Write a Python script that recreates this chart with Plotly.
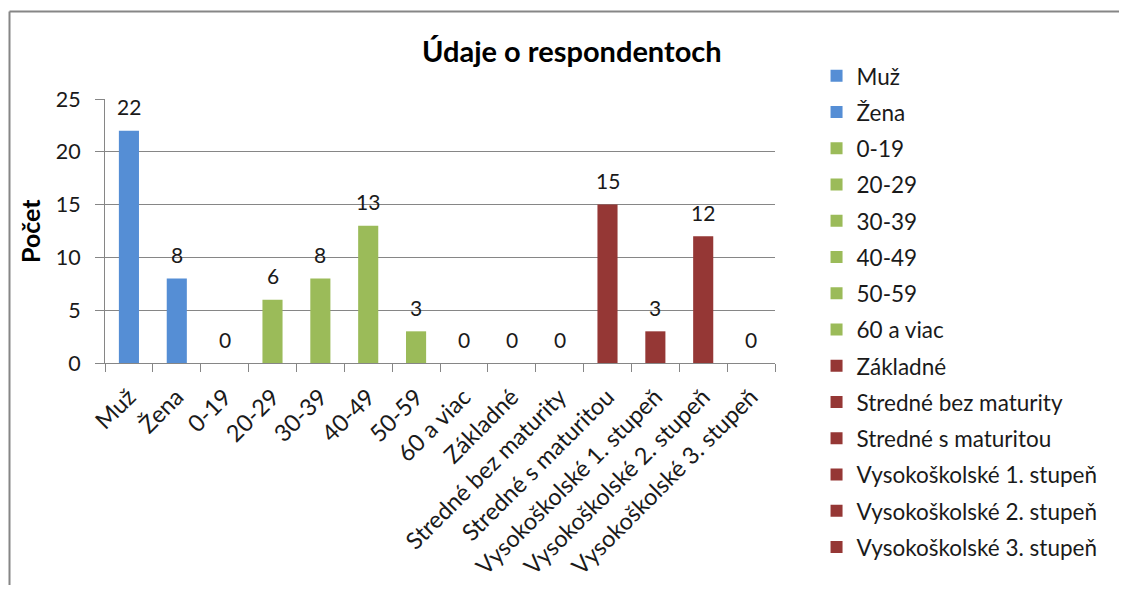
import plotly.graph_objects as go

categories = [
    "Muž", "Žena",
    "0-19", "20-29", "30-39", "40-49", "50-59", "60 a viac",
    "Základné", "Stredné bez maturity", "Stredné s maturitou",
    "Vysokoškolské 1. stupeň", "Vysokoškolské 2. stupeň", "Vysokoškolské 3. stupeň",
]
counts = [22, 8, 0, 6, 8, 13, 3, 0, 0, 0, 15, 3, 12, 0]
groups = ["pohlavie"] * 2 + ["vek"] * 6 + ["vzdelanie"] * 6

_GROUP_COLOURS = {"pohlavie": "#558ED5", "vek": "#9BBB59", "vzdelanie": "#953735"}
FONT = "Lato"
GREY = "#868686"
TXT = "#1a1a1a"

# page body has an 8px margin, so the figure is a bit smaller than the window
fig = go.Figure()
for i, (cat, val, grp) in enumerate(zip(categories, counts, groups)):
    fig.add_trace(go.Bar(
        x=[cat], y=[val],
        name=cat,
        legendgroup=f"g{i}",
        marker=dict(color=_GROUP_COLOURS[grp], line=dict(width=0)),
        width=0.42,
    ))
    # data label, offset above the bar like the Excel default
    fig.add_annotation(
        x=cat, y=val, text=str(val),
        showarrow=False, yanchor="middle", yshift=24,
        font=dict(family=FONT, size=21, color=TXT),
    )

fig.update_layout(
    width=1111, height=577,
    barmode="overlay",
    paper_bgcolor="white", plot_bgcolor="white",
    margin=dict(l=97, r=344, t=91, b=222, autoexpand=False),
    font=dict(family=FONT, size=21, color=TXT),
    showlegend=True,
    legend=dict(
        x=1.062, y=1.168, xanchor="left", yanchor="top",
        traceorder="grouped", tracegroupgap=4,
        font=dict(family=FONT, size=22.5, color=TXT),
        itemwidth=30, maxheight=1000,
    ),
    xaxis=dict(
        type="category",
        categoryorder="array", categoryarray=categories,
        tickangle=-45, tickson="boundaries",
        ticks="outside", ticklen=8, tickcolor=GREY,
        showline=True, linecolor=GREY, linewidth=1,
        showgrid=False,
        tickfont=dict(family=FONT, size=23.5, color=TXT),
        ticklabelstandoff=10,
    ),
    yaxis=dict(
        range=[0, 25], dtick=5,
        ticks="outside", ticklen=9, tickcolor=GREY,
        showline=True, linecolor=GREY, linewidth=1,
        showgrid=True, gridcolor=GREY, gridwidth=1,
        zeroline=False,
        tickfont=dict(family=FONT, size=21.5, color=TXT),
        ticklabelstandoff=10,
    ),
)

fig.add_annotation(
    text="<b>Údaje o respondentoch</b>",
    xref="paper", yref="paper",
    x=(572 - 105) / 670, y=(363 - 51) / 264,
    showarrow=False, xanchor="center", yanchor="middle",
    font=dict(family=FONT, size=29, color="#000000"),
)
fig.add_annotation(
    text="<b>Počet</b>",
    xref="paper", yref="paper",
    x=(30 - 105) / 670, y=0.5,
    showarrow=False, textangle=-90, xanchor="center", yanchor="middle",
    font=dict(family=FONT, size=25, color="#000000"),
)

# chart-area border: only its top and left edges fall inside the crop
border = dict(color=GREY, width=2)
fig.add_shape(
    type="line", xref="paper", yref="paper",
    x0=(9.5 - 105) / 670, x1=(1140 - 105) / 670,
    y0=(363 - 11.5) / 264, y1=(363 - 11.5) / 264,
    line=border, layer="below",
)
fig.add_shape(
    type="line", xref="paper", yref="paper",
    x0=(9.5 - 105) / 670, x1=(9.5 - 105) / 670,
    y0=(363 - 11.5) / 264, y1=(363 - 640) / 264,
    line=border, layer="below",
)

fig.write_html("out.html")
